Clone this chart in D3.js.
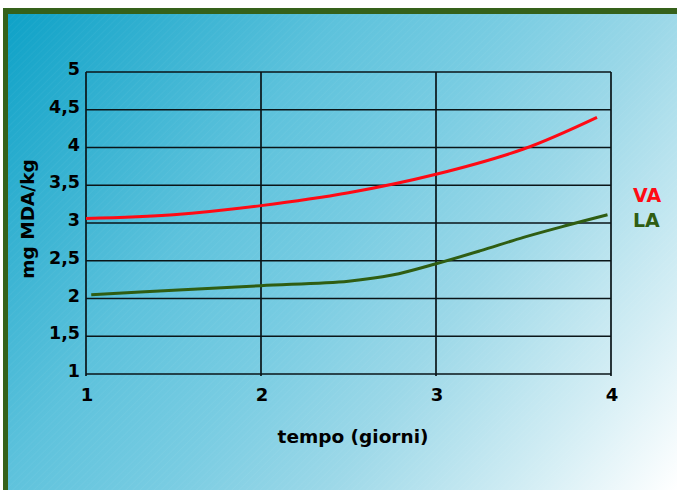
<!DOCTYPE html>
<html>
<head>
<meta charset="utf-8">
<script src="https://cdn.jsdelivr.net/npm/d3@7"></script>
<style>
  html, body { margin: 0; padding: 0; background: #fff; }
  svg { display: block; }
  text { font-family: "DejaVu Sans", sans-serif; font-weight: bold; }
</style>
</head>
<body>
<svg id="chart" width="677" height="490"></svg>
<script>
// Days of storage (x) and malondialdehyde content (mg MDA/kg) for each sample
const daysVA = [1, 1.5, 2, 2.5, 3, 3.5, 3.92];
const valuesVA = [3.06, 3.11, 3.23, 3.40, 3.645, 3.98, 4.40];

const daysLA = [1.03, 1.5, 2, 2.5, 2.75, 3, 3.25, 3.5, 3.75, 3.98];
const valuesLA = [2.05, 2.11, 2.17, 2.23, 2.31, 2.46, 2.63, 2.81, 2.97, 3.11];

const xTicks = [1, 2, 3, 4];
const yTicks = [1, 1.5, 2, 2.5, 3, 3.5, 4, 4.5, 5];

const seriesNames = ["VA", "LA"];
const seriesColors = ["#ff0a14", "#2f5d12"];

const svg = d3.select("#chart");
const W = 677, H = 490;

// Background panel with diagonal gradient and green frame
const defs = svg.append("defs");
const grad = defs.append("linearGradient")
  .attr("id", "bg")
  .attr("gradientUnits", "userSpaceOnUse")
  .attr("x1", 0).attr("y1", 0).attr("x2", W).attr("y2", H);
[[0, "#0aa0c6"], [0.34, "#5dc2dc"], [0.5, "#78cce2"], [0.66, "#9cd8e8"], [0.85, "#d2edf4"], [1, "#ffffff"]]
  .forEach(([o, c]) => grad.append("stop").attr("offset", o).attr("stop-color", c));

const hatch = defs.append("pattern")
  .attr("id", "hatch")
  .attr("patternUnits", "userSpaceOnUse")
  .attr("width", 5).attr("height", 5)
  .attr("patternTransform", "rotate(45)");
hatch.append("line")
  .attr("x1", 0).attr("y1", 0).attr("x2", 0).attr("y2", 5)
  .attr("stroke", "#ffffff").attr("stroke-opacity", 0.07).attr("stroke-width", 1);

svg.append("rect").attr("x", 3).attr("y", 8).attr("width", W - 3).attr("height", H - 8)
  .attr("fill", "#35611a");
svg.append("rect").attr("x", 8).attr("y", 14).attr("width", W - 8).attr("height", H - 14)
  .attr("fill", "url(#bg)");
svg.append("rect").attr("x", 8).attr("y", 14).attr("width", W - 8).attr("height", H - 14)
  .attr("fill", "url(#hatch)");

// Scales
const x = d3.scaleLinear().domain([1, 4]).range([86, 611]);
const y = d3.scaleLinear().domain([1, 5]).range([374, 72]);

const gridColor = "#0a1518";

// Horizontal grid lines
svg.append("g").selectAll("line").data(yTicks).join("line")
  .attr("x1", x(1)).attr("x2", x(4))
  .attr("y1", d => y(d)).attr("y2", d => y(d))
  .attr("stroke", gridColor).attr("stroke-width", 1.7);

// Vertical grid lines
svg.append("g").selectAll("line").data(xTicks).join("line")
  .attr("x1", d => x(d)).attr("x2", d => x(d))
  .attr("y1", y(5)).attr("y2", y(1) + 2)
  .attr("stroke", gridColor).attr("stroke-width", 1.7);

// Y tick labels
svg.append("g").selectAll("text").data(yTicks).join("text")
  .attr("x", 80).attr("y", d => y(d) + 3)
  .attr("text-anchor", "end")
  .attr("font-size", 17.5)
  .attr("fill", "#000")
  .text(d => String(d).replace(".", ","));

// X tick labels
svg.append("g").selectAll("text").data(xTicks).join("text")
  .attr("x", d => x(d) + 1).attr("y", 401)
  .attr("text-anchor", "middle")
  .attr("font-size", 18)
  .attr("fill", "#000")
  .text(d => d);

// Axis titles
svg.append("text")
  .attr("x", 353).attr("y", 443)
  .attr("text-anchor", "middle")
  .attr("font-size", 18.5)
  .attr("fill", "#000")
  .text("tempo (giorni)");

svg.append("text")
  .attr("transform", "translate(34,219) rotate(-90)")
  .attr("text-anchor", "middle")
  .attr("font-size", 18.5)
  .attr("fill", "#000")
  .text("mg MDA/kg");

// Curves
const line = d3.line()
  .x(d => x(d[0]))
  .y(d => y(d[1]))
  .curve(d3.curveCatmullRom.alpha(0.5));

const series = [
  d3.zip(daysVA, valuesVA),
  d3.zip(daysLA, valuesLA)
];

svg.append("g").selectAll("path").data(series).join("path")
  .attr("d", line)
  .attr("fill", "none")
  .attr("stroke", (d, i) => seriesColors[i])
  .attr("stroke-width", 3)
  .attr("stroke-linecap", "butt");

// Legend
svg.append("g").selectAll("text").data(seriesNames).join("text")
  .attr("x", 633).attr("y", (d, i) => 202 + i * 25)
  .attr("font-size", 19)
  .attr("fill", (d, i) => seriesColors[i])
  .text(d => d);
</script>
</body>
</html>
